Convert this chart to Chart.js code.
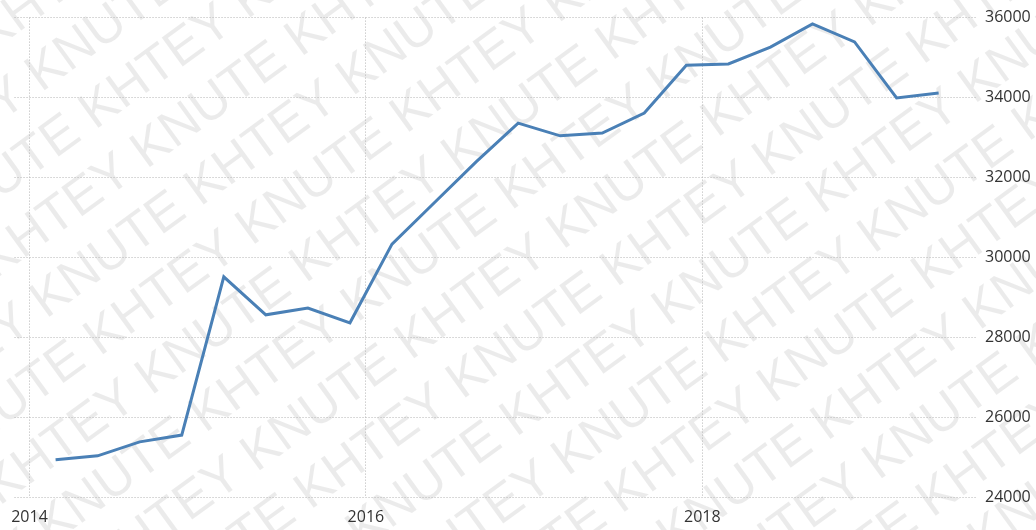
<!DOCTYPE html>
<html>
<head>
<meta charset="utf-8">
<script src="https://cdn.jsdelivr.net/npm/chart.js@4"></script>
<style>
  html, body { margin: 0; padding: 0; background: #fff; }
  #wrap { width: 1036px; height: 530px; position: relative; }
</style>
</head>
<body>
<div id="wrap"><canvas id="myChart"></canvas></div>
<script>
// quarterly values, 2014 Q1 .. 2019 Q2
const years = [2014, 2014, 2014, 2014, 2015, 2015, 2015, 2015, 2016, 2016, 2016, 2016,
  2017, 2017, 2017, 2017, 2018, 2018, 2018, 2018, 2019, 2019];
const quarters = [1, 2, 3, 4, 1, 2, 3, 4, 1, 2, 3, 4, 1, 2, 3, 4, 1, 2, 3, 4, 1, 2];
const values = [24930, 25030, 25380, 25550, 29510, 28560, 28730, 28360, 30330, 31360, 32390, 33360,
  33040, 33110, 33610, 34810, 34840, 35260, 35840, 35390, 33990, 34110];
const yearTicks = [2014, 2016, 2018];
const valueTicks = [24000, 26000, 28000, 30000, 32000, 34000, 36000];

const points = values.map((v, i) => ({ x: years[i] + (quarters[i] - 1) / 4 + 0.155, y: v }));

const watermark = {
  id: "watermark",
  beforeDraw(chart) {
    const ctx = chart.ctx;
    ctx.save();
    ctx.fillStyle = "rgba(0,0,0,0.08)";
    ctx.font = "52px 'Liberation Sans'";
    ctx.textBaseline = "middle";
    ctx.translate(518, 265);
    ctx.rotate(-36 * Math.PI / 180);
    const phrase = "KHTEY KNUTE ";
    const line = phrase.repeat(8);
    const w = ctx.measureText(phrase).width;
    for (let r = -11; r <= 11; r++) {
      ctx.fillText(line, -900 + (r % 2 ? w / 2 : 0) + r * 20, r * 62);
    }
    ctx.restore();
  }
};

const gridStyle = {
  color: "#b4b4b4",
  lineWidth: 1,
  drawTicks: false
};

const config = {
  type: "line",
  data: {
    datasets: [
      {
        data: points,
        borderColor: "#4a80b6",
        borderWidth: 3,
        pointRadius: 0,
        tension: 0,
        fill: false
      }
    ]
  },
  options: {
    responsive: true,
    maintainAspectRatio: false,
    animation: false,
    layout: { padding: { left: 14, top: 17, right: 0, bottom: 0 } },
    plugins: { legend: { display: false }, tooltip: { enabled: false } },
    scales: {
      x: {
        type: "linear",
        min: 2013.911,
        max: 2019.633,
        afterBuildTicks: (axis) => { axis.ticks = yearTicks.map((v) => ({ value: v })); },
        afterFit: (axis) => { axis.height = 33; },
        grid: gridStyle,
        border: { display: false, dash: [1, 2] },
        ticks: {
          padding: 11,
          color: "#333",
          font: { family: "'Open Sans'", size: 16 },
          callback: (v) => String(v)
        }
      },
      y: {
        position: "right",
        min: 24000,
        max: 36000,
        afterBuildTicks: (axis) => { axis.ticks = valueTicks.map((v) => ({ value: v })); },
        afterFit: (axis) => { axis.width = 59; },
        grid: gridStyle,
        border: { display: false, dash: [1, 2] },
        ticks: {
          padding: 8,
          color: "#333",
          font: { family: "'Open Sans'", size: 16 },
          callback: (v) => String(v)
        }
      }
    }
  },
  plugins: [watermark]
};

const myChart = new Chart(document.getElementById("myChart"), config);
</script>
</body>
</html>
